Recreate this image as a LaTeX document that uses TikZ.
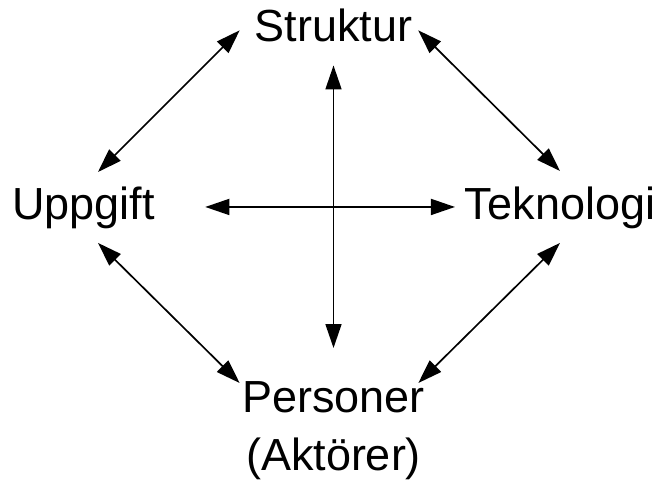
\documentclass[tikz,border=0pt]{standalone}
\usepackage{fontspec}
\setmainfont{Liberation Sans}
\usepackage{tikz}
\usetikzlibrary{arrows.meta}
\tikzset{
  term/.style={inner sep=0pt,outer sep=0pt,align=center,font=\fontsize{32}{41}\selectfont},
  link/.style={<->,>={Triangle[length=6mm,width=4mm]},draw=black,line width=1.2pt}
}
\begin{document}
\begin{tikzpicture}[x=1cm,y=1cm]
  \useasboundingbox (0,0) rectangle (16.475,12);
  \node[term,anchor=base] (struktur) at (8.3375,10.95) {Struktur};
  \node[term,anchor=base] (uppgift) at (2.0875,6.5) {Uppgift};
  \node[term,anchor=base] (teknologi) at (14.0,6.5) {Teknologi};
  \node[term,anchor=north] (personer) at (8.3375,2.45) {Personer\\(Aktörer)};
  % outer ring
  \draw[link] ([shift={(-0.377,-0.11)}]struktur.west) -- ([shift={(0.3625,0.385)}]uppgift.north);
  \draw[link] ([shift={(0.15,-0.11)}]struktur.east) -- ([yshift=0.41cm]teknologi.north);
  \draw[link] ([shift={(0.3625,-0.34)}]uppgift.south) -- ([shift={(-0.065,-0.025)}]personer.north west);
  \draw[link] ([yshift=-0.34cm]teknologi.south) -- ([shift={(-0.16,-0.025)}]personer.north east);
  % cross
  \draw[link] ([yshift=-0.575cm]struktur.south) -- ([yshift=0.85cm]personer.north);
  \draw[link] ([shift={(1.263,0.035)}]uppgift.east) -- ([shift={(-0.25,0.035)}]teknologi.west);
\end{tikzpicture}
\end{document}
